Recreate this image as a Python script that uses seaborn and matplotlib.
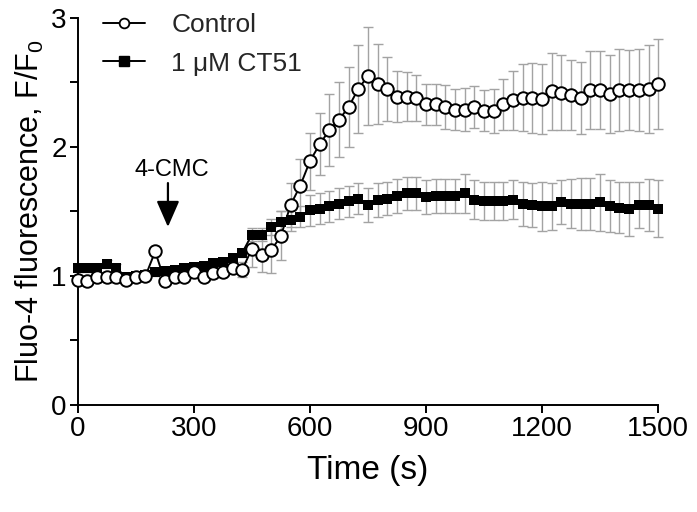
import matplotlib
matplotlib.use("Agg")
import matplotlib.pyplot as plt
import seaborn as sns
import pandas as pd
from matplotlib.lines import Line2D

# ---- data -----------------------------------------------------------------
time_s = list(range(0, 1501, 25))

control_mean = [0.97, 0.96, 0.99, 0.99, 0.99, 0.97, 0.99, 1.00, 1.19, 0.96,
                0.99, 0.99, 1.03, 0.99, 1.02, 1.03, 1.06, 1.05, 1.21, 1.16,
                1.20, 1.31, 1.55, 1.70, 1.89, 2.02, 2.13, 2.21, 2.31, 2.45,
                2.55, 2.49, 2.45, 2.39, 2.39, 2.38, 2.33, 2.33, 2.31, 2.29,
                2.29, 2.31, 2.28, 2.28, 2.33, 2.36, 2.38, 2.38, 2.37, 2.43,
                2.42, 2.40, 2.38, 2.44, 2.44, 2.41, 2.44, 2.44, 2.44, 2.45,
                2.49]
control_sem = [0.02, 0.02, 0.02, 0.02, 0.02, 0.02, 0.02, 0.02, 0.03, 0.02,
               0.02, 0.02, 0.02, 0.02, 0.02, 0.02, 0.04, 0.06, 0.14, 0.13,
               0.18, 0.19, 0.17, 0.21, 0.22, 0.24, 0.28, 0.29, 0.31, 0.34,
               0.38, 0.31, 0.25, 0.20, 0.19, 0.18, 0.16, 0.16, 0.17, 0.16,
               0.17, 0.16, 0.16, 0.17, 0.20, 0.23, 0.26, 0.27, 0.27, 0.30,
               0.29, 0.27, 0.28, 0.30, 0.30, 0.30, 0.32, 0.31, 0.32, 0.34,
               0.35]

ct51_mean = [1.06, 1.06, 1.06, 1.09, 1.06, 0.99, 1.00, 1.01, 1.03, 1.04,
             1.05, 1.06, 1.07, 1.08, 1.10, 1.11, 1.14, 1.18, 1.32, 1.32,
             1.38, 1.42, 1.43, 1.46, 1.51, 1.52, 1.54, 1.56, 1.58, 1.60,
             1.55, 1.59, 1.60, 1.62, 1.64, 1.64, 1.61, 1.62, 1.62, 1.62,
             1.64, 1.59, 1.58, 1.58, 1.58, 1.59, 1.56, 1.55, 1.54, 1.54,
             1.57, 1.56, 1.56, 1.56, 1.57, 1.54, 1.53, 1.52, 1.55, 1.55,
             1.52]
ct51_sem = [0.03, 0.03, 0.03, 0.03, 0.03, 0.03, 0.03, 0.03, 0.03, 0.03,
            0.03, 0.03, 0.03, 0.03, 0.03, 0.03, 0.03, 0.03, 0.05, 0.05,
            0.06, 0.08, 0.08, 0.08, 0.12, 0.12, 0.12, 0.12, 0.12, 0.12,
            0.13, 0.13, 0.13, 0.13, 0.13, 0.13, 0.13, 0.13, 0.13, 0.13,
            0.15, 0.15, 0.15, 0.15, 0.15, 0.15, 0.17, 0.17, 0.19, 0.18,
            0.17, 0.19, 0.20, 0.20, 0.22, 0.20, 0.20, 0.21, 0.18, 0.20,
            0.22]

series_labels = ["Control", "1 \u03bcM CT51"]
x_ticks = [0, 300, 600, 900, 1200, 1500]
y_ticks = [0, 1, 2, 3]
stim_label = "4-CMC"
stim_time = 233

# ---- style ----------------------------------------------------------------
sns.set_theme(style="ticks")
plt.rcParams["font.family"] = ["Liberation Sans", "DejaVu Sans"]
plt.rcParams["mathtext.fontset"] = "custom"
plt.rcParams["mathtext.rm"] = "Liberation Sans"

fig = plt.figure(figsize=(6.97, 5.12), dpi=100)
ax = fig.add_axes([0.1116, 0.209, 0.8327, 0.756])

df_ctrl = pd.DataFrame({"t": time_s, "v": control_mean})
df_ct = pd.DataFrame({"t": time_s, "v": ct51_mean})

err_color = "#a3a3a3"
ax.errorbar(time_s, ct51_mean, yerr=ct51_sem, fmt="none", ecolor=err_color,
            elinewidth=1.0, capsize=3.4, capthick=1.0, zorder=1, clip_on=False)
ax.errorbar(time_s, control_mean, yerr=control_sem, fmt="none", ecolor=err_color,
            elinewidth=1.0, capsize=3.4, capthick=1.0, zorder=1, clip_on=False)

sns.lineplot(data=df_ct, x="t", y="v", ax=ax, color="black", linewidth=1.4,
             marker="s", markersize=7.8, markerfacecolor="black",
             markeredgecolor="black", markeredgewidth=0, zorder=3,
             clip_on=False, legend=False)
sns.lineplot(data=df_ctrl, x="t", y="v", ax=ax, color="black", linewidth=1.4,
             marker="o", markersize=9.0, markerfacecolor="white",
             markeredgecolor="black", markeredgewidth=1.4, zorder=4,
             clip_on=False, legend=False)

ax.set_xlim(0, 1500)
ax.set_ylim(0, 3)
ax.set_xticks(x_ticks)
ax.set_yticks(y_ticks)
ax.set_yticks([0.5, 1.5, 2.5], minor=True)
ax.set_xticklabels([str(v) for v in x_ticks])
ax.set_yticklabels([str(v) for v in y_ticks])

for s in ["top", "right"]:
    ax.spines[s].set_visible(False)
for s in ["left", "bottom"]:
    ax.spines[s].set_linewidth(1.4)
    ax.spines[s].set_color("black")

ax.tick_params(axis="both", which="major", length=6, width=1.4, color="black",
               labelsize=20, pad=2, labelcolor="black")
ax.tick_params(axis="y", which="minor", length=6, width=1.4, color="black")

ax.set_xlabel("Time (s)", fontsize=24, labelpad=9, color="black")
ax.set_ylabel("Fluo-4 fluorescence, F/F$_\\mathregular{0}$", fontsize=22,
              labelpad=4, color="black")

ax.text(stim_time + 10, 1.82, stim_label, ha="center", va="center",
        fontsize=17, color="black")
ax.annotate("", xy=(stim_time, 1.38), xytext=(stim_time, 1.72),
            arrowprops=dict(arrowstyle="-|>,head_length=0.8,head_width=0.35",
                            color="black", lw=1.6, shrinkA=0, shrinkB=0,
                            mutation_scale=20))

handles = [
    Line2D([], [], color="black", lw=1.4, marker="o", markersize=7,
           markerfacecolor="white", markeredgecolor="black", markeredgewidth=1.3),
    Line2D([], [], color="black", lw=1.4, marker="s", markersize=7,
           markerfacecolor="black", markeredgecolor="black"),
]
ax.legend(handles, series_labels, loc="upper left", bbox_to_anchor=(0.025, 1.04),
          frameon=False, fontsize=19, handlelength=1.6, handletextpad=1.0,
          labelspacing=0.55, borderaxespad=0)

fig.savefig("out.png", dpi=100)
